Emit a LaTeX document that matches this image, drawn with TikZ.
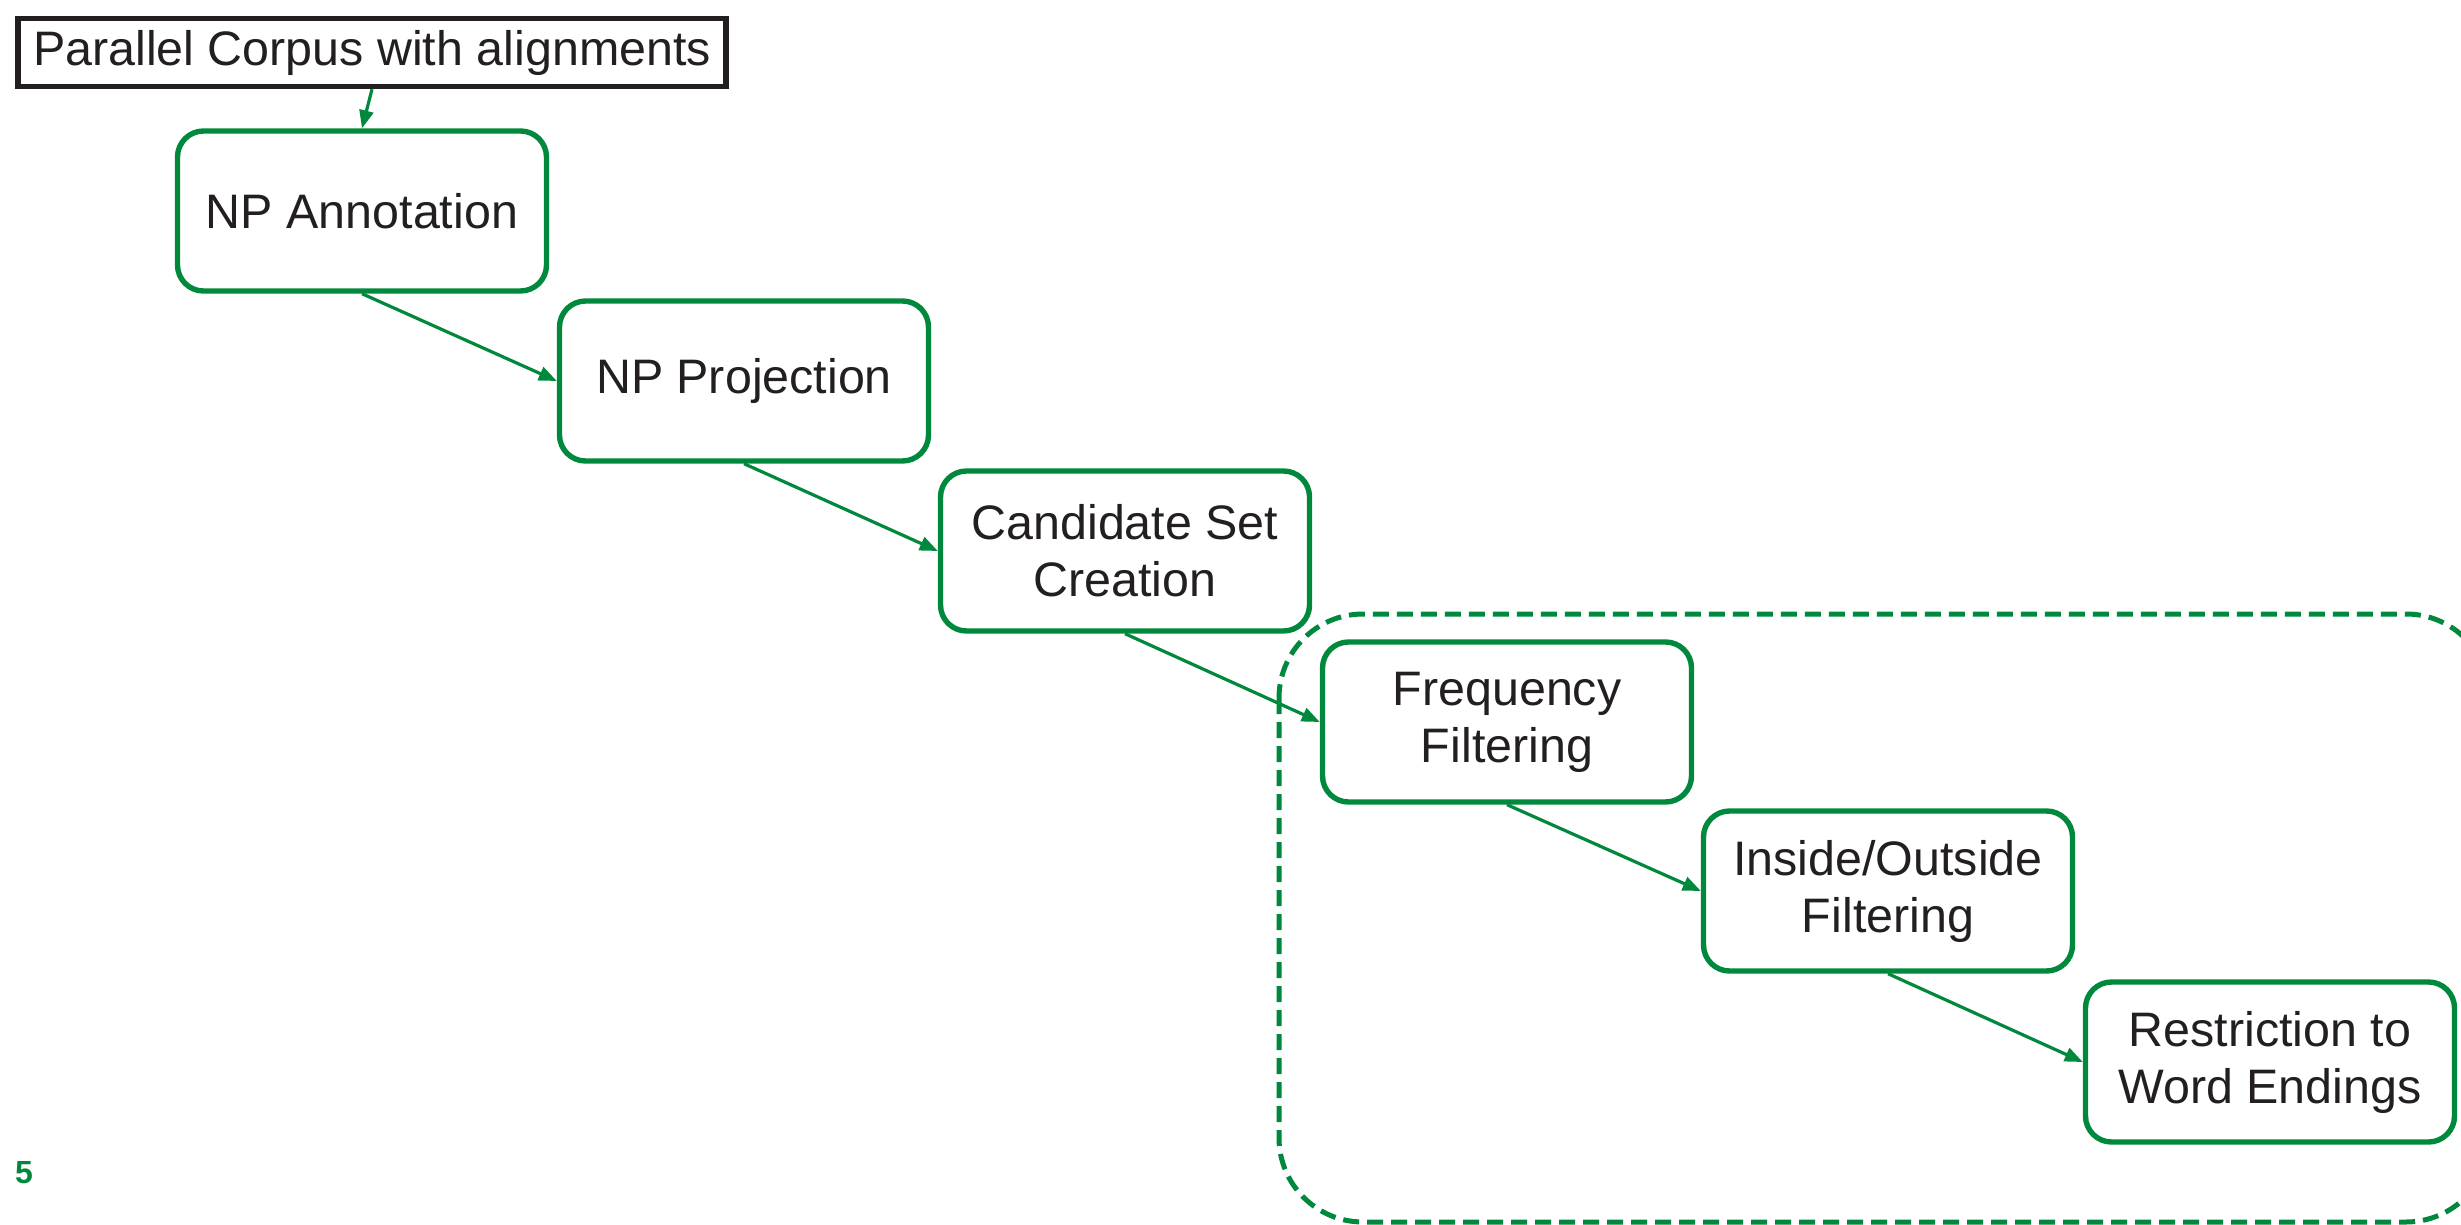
\documentclass[tikz,border=0pt]{standalone}
\usepackage{fontspec}
\setmainfont{Liberation Sans}
\usetikzlibrary{arrows.meta}
\definecolor{flowgreen}{RGB}{0,137,60}
\definecolor{inkgrey}{RGB}{35,31,32}
\tikzset{
  stage/.style={draw=flowgreen, line width=2.7pt, rounded corners=13pt,
    fill=white, text=inkgrey, minimum width=184.5pt, minimum height=80pt,
    inner sep=0pt, align=center, font=\fontsize{24.2}{28.5}\selectfont},
  source/.style={draw=inkgrey, line width=2.7pt, fill=white, text=inkgrey,
    minimum width=354pt, minimum height=34pt, inner sep=0pt,
    font=\fontsize{24.2}{28.5}\selectfont},
  flow/.style={draw=flowgreen, line width=1.6pt,
    -{Triangle[length=9pt,width=7pt]}},
  group/.style={draw=flowgreen, line width=2.5pt, dash pattern=on 8pt off 4pt,
    rounded corners=42pt},
}
\begin{document}
\begin{tikzpicture}[x=0.5pt,y=-0.5pt]
  \useasboundingbox (0,0) rectangle (2461,1225);
  % filtering stages grouped by a dashed outline
  \draw[group] (1279,614) rectangle (2490,1222);

  \node[source] (corpus) at (372,52.5) {Parallel Corpus with alignments};
  \node[stage] (annot)  at (362,211)  {NP Annotation};
  \node[stage] (proj)   at (744,381)  {NP Projection};
  \node[stage] (cand)   at (1125,551) {Candidate Set\\Creation};
  \node[stage] (freq)   at (1507,722) {Frequency\\Filtering};
  \node[stage] (inout)  at (1888,891) {Inside/Outside\\Filtering};
  \node[stage] (restr)  at (2270,1062) {Restriction to\\Word Endings};

  \draw[flow] (corpus.south) -- (annot.north);
  \draw[flow] (annot.south) -- (proj.west);
  \draw[flow] (proj.south) -- (cand.west);
  \draw[flow] (cand.south) -- (freq.west);
  \draw[flow] (freq.south) -- (inout.west);
  \draw[flow] (inout.south) -- (restr.west);

  \node[text=flowgreen, font=\fontsize{16}{18}\selectfont\bfseries] (page) at (24,1173) {5};
\end{tikzpicture}
\end{document}
